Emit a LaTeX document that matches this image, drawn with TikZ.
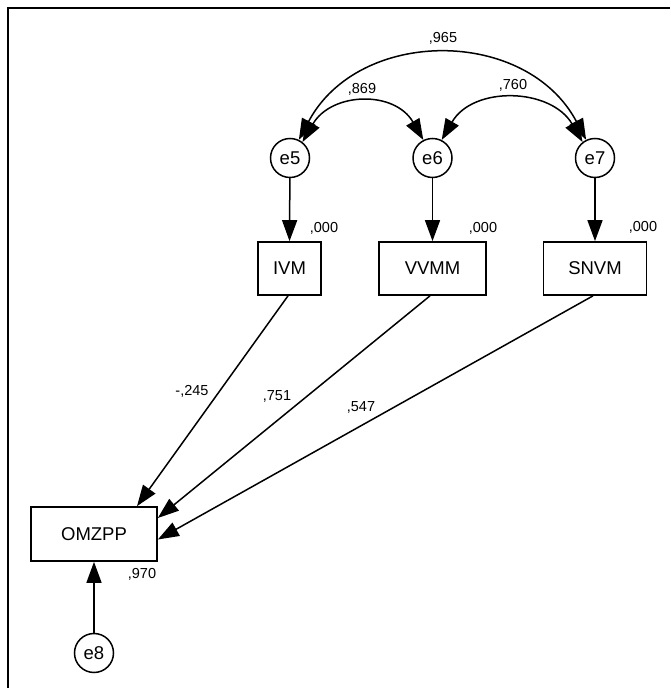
\documentclass[tikz,border=0pt]{standalone}
\usepackage{fontspec}
\setmainfont{Liberation Sans}
\usetikzlibrary{arrows.meta,calc}
\begin{document}
\begin{tikzpicture}[x=1pt,y=1pt,
  box/.style={draw,line width=1.7pt,inner sep=0pt,minimum height=53pt,font=\fontsize{18.5}{22}\selectfont},
  err/.style={draw,circle,line width=1.5pt,inner sep=0pt,minimum size=39pt,font=\fontsize{18.5}{22}\selectfont},
  lbl/.style={inner sep=0pt,font=\fontsize{14.5}{17}\selectfont},
  reg/.style={line width=1.5pt,-{Triangle[length=21pt,width=15pt]}},
  cov/.style={line width=1.5pt,{Triangle[length=21pt,width=15pt]}-{Triangle[length=21pt,width=15pt]}}]
\useasboundingbox (0,0) rectangle (670,688);
% frame
\coordinate (fl) at (8,0);
\coordinate (fc) at (8,680);
\coordinate (fr) at (670,680);
\draw[line width=1.6pt] (fl) -- (fc) -- (fr);
% nodes
\node[err] (e5) at (290,530) {e5};
\node[err] (e6) at (432.5,530) {e6};
\node[err] (e7) at (595,530) {e7};
\node[box,minimum width=63pt] (ivm) at (289.5,419.5) {IVM};
\node[box,minimum width=107pt] (vvmm) at (432.5,419.5) {VVMM};
\node[box,minimum width=103pt] (snvm) at (595,419.5) {SNVM};
\node[box,minimum width=126pt,minimum height=54pt] (omzpp) at (94,154) {OMZPP};
\node[err] (e8) at (94,35) {e8};
% labels
\node[lbl] (l1) at (324,460) {,000};
\node[lbl] (l2) at (483,460) {,000};
\node[lbl] (l3) at (643,461) {,000};
\node[lbl] (l4) at (142,114) {,970};
\node[lbl] (l5) at (192,297) {-,245};
\node[lbl] (l6) at (277,292) {,751};
\node[lbl] (l7) at (361,281) {,547};
\node[lbl] (l8) at (443,650) {,965};
\node[lbl] (l9) at (362,599) {,869};
\node[lbl] (l10) at (513,603) {,760};
% error arrows
\draw[reg] (e5) -- (ivm.north);
\draw[reg] (e6) -- (vvmm.north);
\draw[reg] (e7) -- (snvm.north);
\draw[reg] (e8) -- (omzpp.south);
% regressions
\draw[reg] ($(ivm.south)+(-1.5,0)$) -- ($(omzpp.north)+(43,0)$);
\draw[reg] ($(vvmm.south)+(-2.5,0)$) -- ($(omzpp.east)+(0,16)$);
\draw[reg] ($(snvm.south)+(-2,0)$) -- ($(omzpp.east)+(0,-5.5)$);
% covariances
\draw[cov] (e5.64) to[out=62,in=118,looseness=1.14] (e7.116);
\draw[cov] (e5.52) to[out=60,in=120,looseness=1.22] (e6.117);
\draw[cov] (e6.63) to[out=60,in=120,looseness=1.14] (e7.128);
\end{tikzpicture}
\end{document}
